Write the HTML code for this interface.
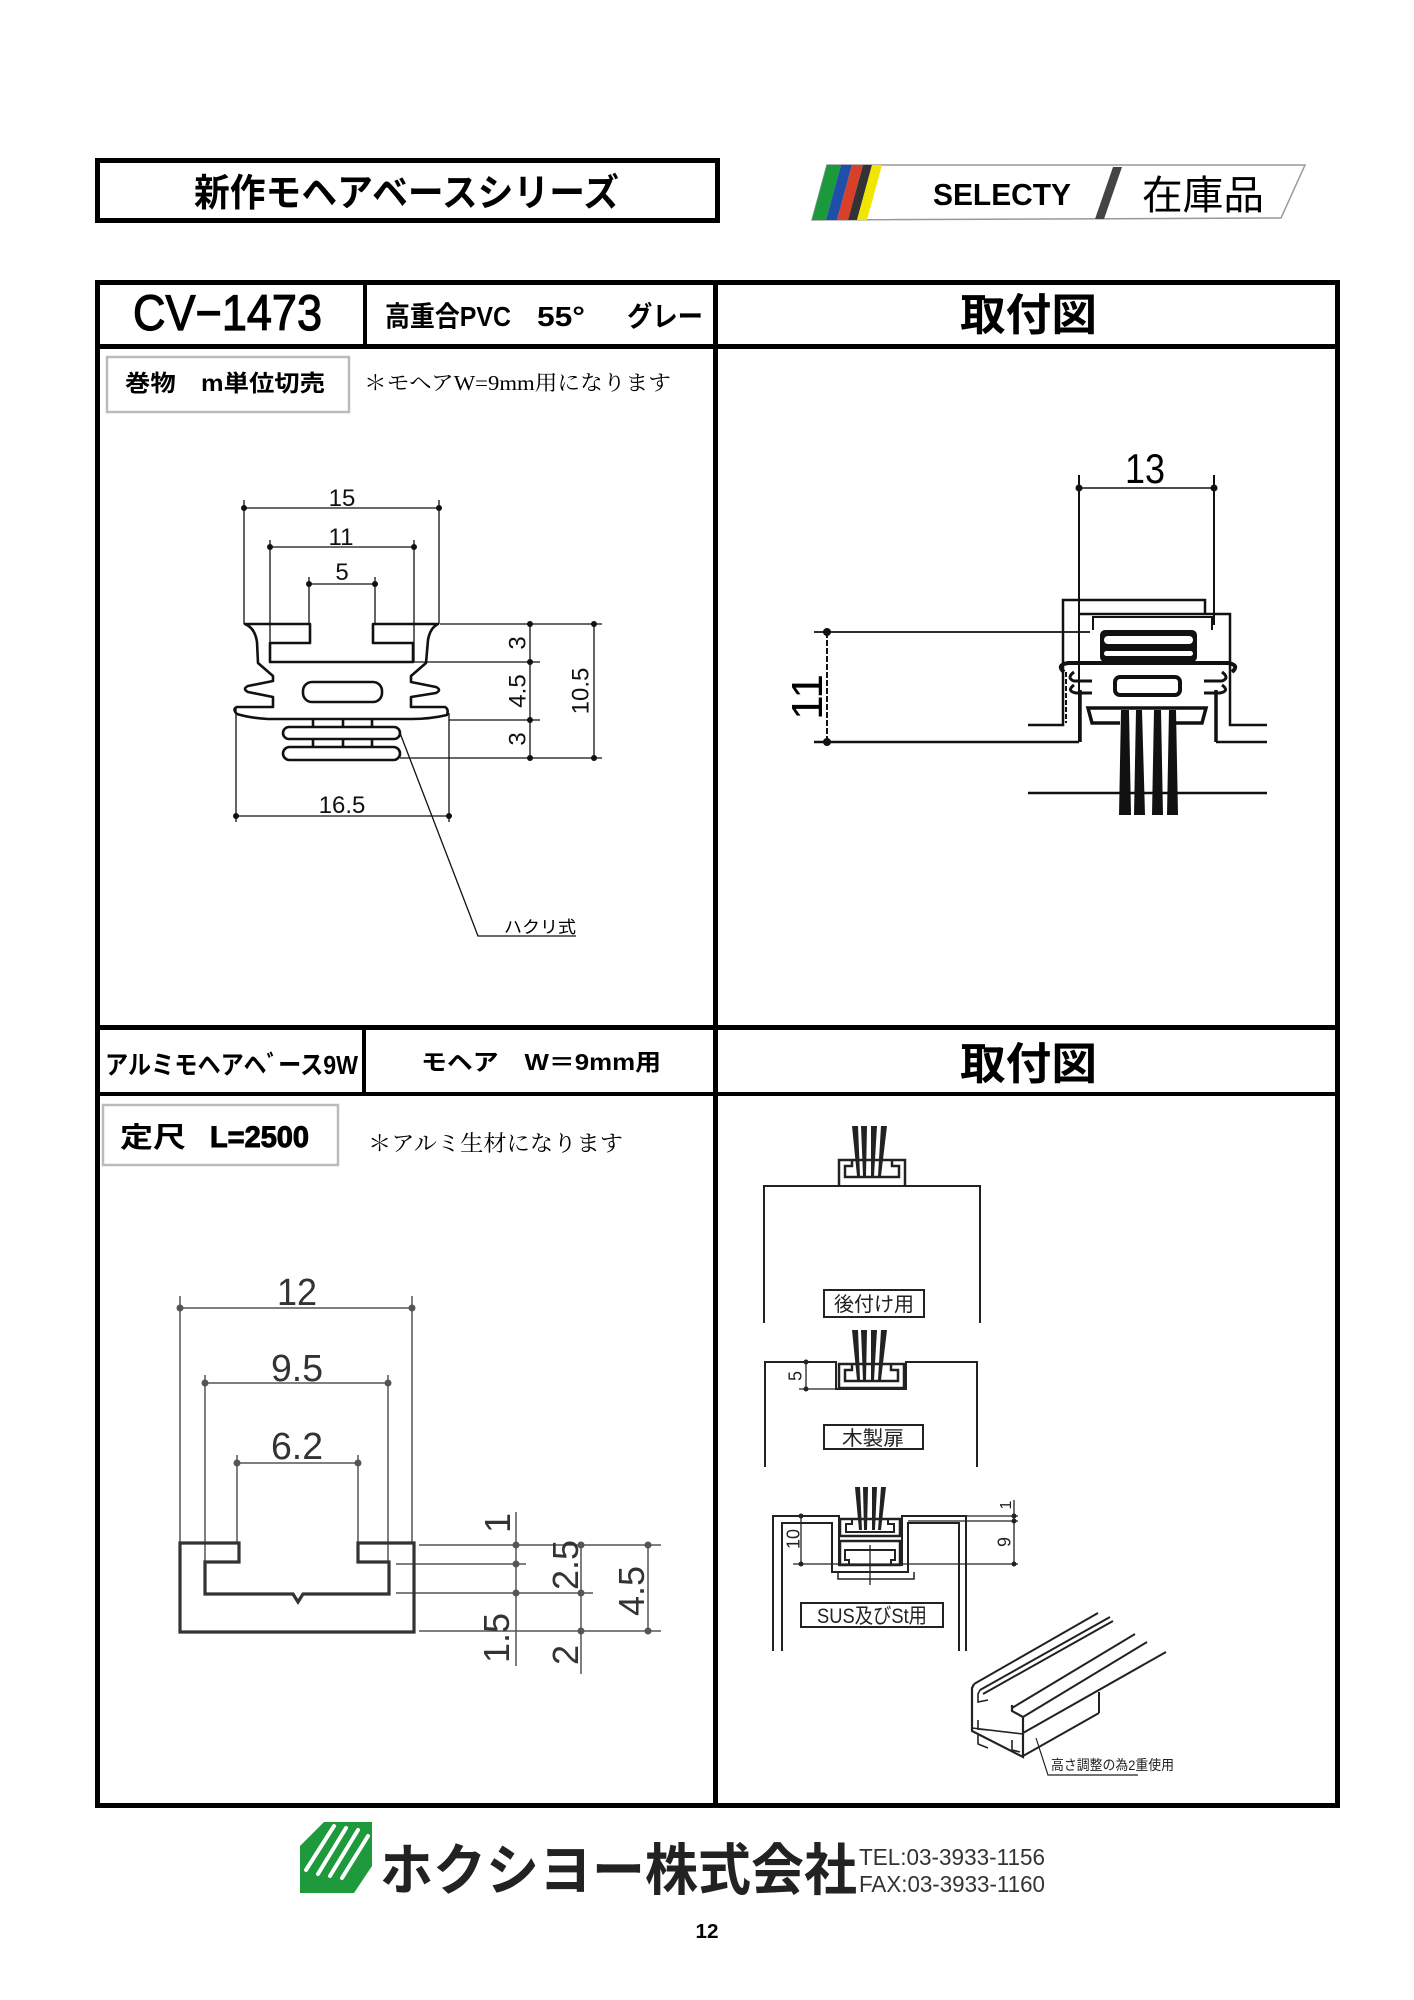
<!DOCTYPE html>
<html><head><meta charset="utf-8"><style>
html,body{margin:0;padding:0;background:#fff}
svg{display:block}
.sb{font-family:"Liberation Sans","Noto Sans CJK JP",sans-serif;font-weight:bold}
.s{font-family:"Liberation Sans","Noto Sans CJK JP",sans-serif}
.m{font-family:"Liberation Serif","Noto Serif CJK JP","Noto Serif CJK SC",serif}
</style></head><body>
<svg width="1414" height="2000" viewBox="0 0 1414 2000" xmlns="http://www.w3.org/2000/svg">
<rect width="1414" height="2000" fill="#fff"/>

<!-- Title box -->
<rect x="97.5" y="160.5" width="620" height="60" fill="none" stroke="#000" stroke-width="5"/>
<text class="sb" x="194" y="206" font-size="38" textLength="425" lengthAdjust="spacingAndGlyphs">新作モヘアベースシリーズ</text>

<!-- SELECTY logo -->
<polygon points="827,165 1305,165 1281,218 812,220" fill="#fff" stroke="#999" stroke-width="1.5"/>
<polygon points="812,220 826,220 841,165 827,165" fill="#1a9a3a"/>
<polygon points="826,220 837,220 852,165 841,165" fill="#1f4fa8"/>
<polygon points="837,220 848,220 863,165 852,165" fill="#d8402a"/>
<polygon points="848,220 857,220 872,165 863,165" fill="#333"/>
<polygon points="857,220 867,220 882,165 872,165" fill="#f2e600"/>
<text class="sb" x="933" y="205" font-size="31" textLength="138" lengthAdjust="spacingAndGlyphs">SELECTY</text>
<polygon points="1113,167 1122,167 1104,219 1095,219" fill="#444"/>
<text class="s" x="1142" y="209" font-size="40" textLength="122" lengthAdjust="spacingAndGlyphs">在庫品</text>

<!-- Table -->
<g stroke="#000" fill="none">
<rect x="97.5" y="282.5" width="1240" height="1523" stroke-width="5"/>
<line x1="715.5" y1="282" x2="715.5" y2="1806" stroke-width="5"/>
<line x1="97" y1="346.5" x2="1338" y2="346.5" stroke-width="5"/>
<line x1="365" y1="282" x2="365" y2="346" stroke-width="4"/>
<line x1="97" y1="1027.5" x2="1338" y2="1027.5" stroke-width="5"/>
<line x1="97" y1="1094" x2="1338" y2="1094" stroke-width="4"/>
<line x1="364" y1="1027" x2="364" y2="1094" stroke-width="4"/>
</g>

<!-- Header row 1 -->
<text class="s" x="133" y="330" font-size="50" stroke="#000" stroke-width="1.2" textLength="189" lengthAdjust="spacingAndGlyphs">CV−1473</text>
<text class="sb" x="385" y="326" font-size="28" textLength="126" lengthAdjust="spacingAndGlyphs">高重合PVC</text>
<text class="sb" x="537" y="326" font-size="28" textLength="48" lengthAdjust="spacingAndGlyphs">55°</text>
<text class="sb" x="627" y="326" font-size="28" textLength="76" lengthAdjust="spacingAndGlyphs">グレー</text>
<text class="sb" x="960" y="330" font-size="44" textLength="137" lengthAdjust="spacingAndGlyphs">取付図</text>

<!-- Row 1 left sub -->
<rect x="107" y="357" width="242" height="55" fill="none" stroke="#bbb" stroke-width="2.5"/>
<text class="sb" x="125" y="391" font-size="23" textLength="200" lengthAdjust="spacingAndGlyphs">巻物　m単位切売</text>
<text class="m" x="364" y="390" font-size="21" textLength="307" lengthAdjust="spacingAndGlyphs">＊モヘアW=9mm用になります</text>

<!-- Profile 1 drawing -->
<g stroke="#111" fill="none" stroke-width="1.3">
<line x1="244" y1="508" x2="439" y2="508"/>
<line x1="244" y1="500" x2="244" y2="624"/>
<line x1="439" y1="500" x2="439" y2="624"/>
<line x1="270" y1="547" x2="414" y2="547"/>
<line x1="270" y1="540" x2="270" y2="662"/>
<line x1="414" y1="540" x2="414" y2="662"/>
<line x1="309" y1="584" x2="375" y2="584"/>
<line x1="309" y1="577" x2="309" y2="624"/>
<line x1="375" y1="577" x2="375" y2="624"/>
<line x1="440" y1="624" x2="602" y2="624"/>
<line x1="414" y1="662" x2="540" y2="662"/>
<line x1="449" y1="720" x2="540" y2="720"/>
<line x1="400" y1="758" x2="602" y2="758"/>
<line x1="530" y1="624" x2="530" y2="758"/>
<line x1="594" y1="624" x2="594" y2="758"/>
<line x1="236" y1="816" x2="449" y2="816"/>
<line x1="236" y1="707" x2="236" y2="822"/>
<line x1="449" y1="713" x2="449" y2="822"/>
<polyline points="400,733 478,936 576,936"/>
</g>
<g fill="#111">
<circle cx="244" cy="508" r="3"/><circle cx="439" cy="508" r="3"/>
<circle cx="270" cy="547" r="3"/><circle cx="414" cy="547" r="3"/>
<circle cx="309" cy="584" r="3"/><circle cx="375" cy="584" r="3"/>
<circle cx="530" cy="624" r="3"/><circle cx="530" cy="662" r="3"/><circle cx="530" cy="720" r="3"/><circle cx="530" cy="758" r="3"/>
<circle cx="594" cy="624" r="3"/><circle cx="594" cy="758" r="3"/>
<circle cx="236" cy="816" r="3"/><circle cx="449" cy="816" r="3"/>
</g>
<g stroke="#111" fill="none" stroke-width="2.6" stroke-linejoin="round">
<path d="M245,624 L310,624 L310,643 L270,643 L270,662 L413,662 L413,643 L373,643 L373,624 L438,624 Q430,628 428,640 L426,663 L411,676 L411,682 L436,687 Q442,690 436,693 L411,697 L411,707 L445,707 Q449,709 447,715 Q430,719 412,719 L268,719 Q250,718 237,714 Q232,709 237,707 L273,707 L273,697 L248,692 Q242,689 248,686 L273,681 L273,676 L258,663 L257,642 Q255,628 245,624 Z"/>
<rect x="303" y="682" width="79" height="20" rx="9"/>
<rect x="283" y="727" width="117" height="12" rx="6"/>
<rect x="283" y="747" width="117" height="13" rx="6.5"/>
<path d="M313,719 V727 M343,719 V727 M372,719 V727 M313,739 V747 M343,739 V747 M372,739 V747"/>
</g>
<g class="s" fill="#111" font-size="24">
<text x="342" y="506" text-anchor="middle">15</text>
<text x="341" y="545" text-anchor="middle">11</text>
<text x="342" y="580" text-anchor="middle">5</text>
<text x="342" y="813" text-anchor="middle">16.5</text>
<text transform="translate(517,643) rotate(-90)" text-anchor="middle" dy="0.36em">3</text>
<text transform="translate(517,691) rotate(-90)" text-anchor="middle" dy="0.36em">4.5</text>
<text transform="translate(517,739) rotate(-90)" text-anchor="middle" dy="0.36em">3</text>
<text transform="translate(580,691) rotate(-90)" text-anchor="middle" dy="0.36em">10.5</text>
</g>
<text class="s" x="504" y="933" font-size="17" textLength="72" lengthAdjust="spacingAndGlyphs">ハクリ式</text>

<!-- Top-right mounting drawing -->
<g stroke="#111" fill="none" stroke-width="2">
<line x1="1079" y1="488" x2="1214" y2="488" stroke-width="1.5"/>
<line x1="1079" y1="475" x2="1079" y2="742"/>
<line x1="1214" y1="475" x2="1214" y2="625"/>
<path d="M1028,725 L1063,725 L1063,600 L1205,600 L1205,615" stroke-width="2.5"/>
<path d="M1079,614 L1230,614 L1230,725 L1267,725" stroke-width="2.5"/>
<path d="M1093,630 L1093,617 L1212,617 L1212,630"/>
<line x1="814" y1="632" x2="1090" y2="632" stroke-width="1.8"/>
<line x1="814" y1="742" x2="1079" y2="742" stroke-width="2.5"/>
<line x1="1216" y1="742" x2="1267" y2="742" stroke-width="2.5"/>
<line x1="827" y1="632" x2="827" y2="742" stroke-dasharray="6,2"/>
<line x1="1028" y1="793" x2="1267" y2="793" stroke-width="2.5"/>
<path d="M1064,672 Q1056,665 1068,663 L1228,663 Q1240,665 1232,672" stroke-width="4"/>
<path d="M1074,672 Q1066,678 1074,681 L1092,681 M1074,685 Q1066,691 1076,693 L1092,693" stroke-width="3"/>
<path d="M1222,672 Q1230,678 1222,681 L1204,681 M1222,685 Q1230,691 1220,693 L1204,693" stroke-width="3"/>
<rect x="1115" y="677" width="65" height="18" rx="5" stroke-width="4"/>
<line x1="1080" y1="690" x2="1080" y2="742" stroke-width="3.5"/>
<line x1="1216" y1="690" x2="1216" y2="742" stroke-width="3.5"/>
<path d="M1120,723 L1092,723 L1088,708 L1206,708 L1202,723 L1173,723" stroke-width="3.5"/>
<line x1="1066" y1="672" x2="1066" y2="723" stroke-dasharray="5,2"/>
</g>
<rect x="1100" y="630" width="97" height="32" rx="5" fill="#111"/>
<rect x="1104" y="636" width="89" height="8" rx="4" fill="#fff"/>
<rect x="1104" y="651" width="89" height="5" rx="2.5" fill="#fff"/>
<g fill="#111">
<circle cx="1079" cy="488" r="3.5"/><circle cx="1214" cy="488" r="3.5"/>
<circle cx="827" cy="632" r="4"/><circle cx="827" cy="742" r="4"/>
<polygon points="1121,710 1129,710 1131,815 1119,815"/>
<polygon points="1136,710 1142,710 1145,815 1134,815"/>
<polygon points="1154,710 1161,710 1163,815 1152,815"/>
<polygon points="1169,710 1176,710 1178,815 1167,815"/>
</g>
<text class="s" x="1145" y="483" font-size="42" text-anchor="middle" textLength="40" lengthAdjust="spacingAndGlyphs">13</text>
<text class="s" transform="translate(806,697) rotate(-90)" font-size="44" text-anchor="middle" dy="0.36em">11</text>

<!-- Header row 2 -->
<text class="sb" x="105" y="1074" font-size="26" textLength="253" lengthAdjust="spacingAndGlyphs">アルミモヘアヘﾞース9W</text>
<text class="sb" x="421" y="1070" font-size="23" textLength="240" lengthAdjust="spacingAndGlyphs">モヘア　W＝9mm用</text>
<text class="sb" x="960" y="1079" font-size="44" textLength="137" lengthAdjust="spacingAndGlyphs">取付図</text>

<rect x="103" y="1105" width="235" height="60" fill="none" stroke="#bbb" stroke-width="2.5"/>
<text class="sb" x="120" y="1147" font-size="28" textLength="66" lengthAdjust="spacingAndGlyphs">定尺</text>
<text class="sb" x="210" y="1147" font-size="30" stroke="#000" stroke-width="1" textLength="99" lengthAdjust="spacingAndGlyphs">L=2500</text>
<text class="m" x="368" y="1151" font-size="22" textLength="255" lengthAdjust="spacingAndGlyphs">＊アルミ生材になります</text>

<!-- Aluminium profile drawing -->
<g stroke="#555" fill="none" stroke-width="1.5">
<line x1="180" y1="1308" x2="412" y2="1308"/>
<line x1="205" y1="1383" x2="388" y2="1383"/>
<line x1="237" y1="1463" x2="358" y2="1463"/>
<line x1="180" y1="1296" x2="180" y2="1543"/>
<line x1="412" y1="1296" x2="412" y2="1543"/>
<line x1="205" y1="1375" x2="205" y2="1562"/>
<line x1="388" y1="1375" x2="388" y2="1562"/>
<line x1="237" y1="1455" x2="237" y2="1543"/>
<line x1="358" y1="1455" x2="358" y2="1543"/>
<line x1="419" y1="1545" x2="661" y2="1545"/>
<line x1="396" y1="1564" x2="526" y2="1564"/>
<line x1="396" y1="1593" x2="593" y2="1593"/>
<line x1="419" y1="1631" x2="661" y2="1631"/>
<line x1="516" y1="1512" x2="516" y2="1666"/>
<line x1="581" y1="1545" x2="581" y2="1674"/>
<line x1="648" y1="1545" x2="648" y2="1631"/>
</g>
<path d="M180,1543 L239,1543 L239,1562 L205,1562 L205,1594 L293,1594 L298,1602 L303,1594 L389,1594 L389,1562 L358,1562 L358,1543 L414,1543 L414,1632 L180,1632 Z" fill="none" stroke="#333" stroke-width="3.2"/>
<g fill="#555">
<circle cx="180" cy="1308" r="3.5"/><circle cx="412" cy="1308" r="3.5"/>
<circle cx="205" cy="1383" r="3.5"/><circle cx="388" cy="1383" r="3.5"/>
<circle cx="237" cy="1463" r="3.5"/><circle cx="358" cy="1463" r="3.5"/>
<circle cx="516" cy="1545" r="3.5"/><circle cx="516" cy="1564" r="3.5"/><circle cx="516" cy="1593" r="3.5"/>
<circle cx="581" cy="1545" r="3.5"/><circle cx="581" cy="1593" r="3.5"/><circle cx="581" cy="1631" r="3.5"/>
<circle cx="648" cy="1545" r="3.5"/><circle cx="648" cy="1631" r="3.5"/>
</g>
<g class="s" fill="#333" font-size="38">
<text x="297" y="1305" text-anchor="middle" textLength="40" lengthAdjust="spacingAndGlyphs">12</text>
<text x="297" y="1381" text-anchor="middle" textLength="52" lengthAdjust="spacingAndGlyphs">9.5</text>
<text x="297" y="1459" text-anchor="middle" textLength="52" lengthAdjust="spacingAndGlyphs">6.2</text>
<text transform="translate(497,1523) rotate(-90)" text-anchor="middle" dy="0.36em" font-size="36">1</text>
<text transform="translate(496,1638) rotate(-90)" text-anchor="middle" dy="0.36em" font-size="36">1.5</text>
<text transform="translate(565,1565) rotate(-90)" text-anchor="middle" dy="0.36em" font-size="36">2.5</text>
<text transform="translate(565,1655) rotate(-90)" text-anchor="middle" dy="0.36em" font-size="36">2</text>
<text transform="translate(631,1591) rotate(-90)" text-anchor="middle" dy="0.36em" font-size="36">4.5</text>
</g>

<!-- Bottom-right drawings -->
<g stroke="#222" fill="none" stroke-width="2">
<path d="M764,1323 L764,1186 L980,1186 L980,1323"/>
<path d="M839,1186 L839,1160 L905,1160 L905,1186" stroke-width="2.5"/>
<path d="M852,1160 L852,1166 L845,1166 L845,1177 L899,1177 L899,1166 L892,1166 L892,1160" stroke-width="2.5"/>
<rect x="824" y="1290" width="100" height="27"/>
<path d="M765,1467 L765,1362 L836,1362 L836,1389 L906,1389 L906,1362 L977,1362 L977,1467"/>
<rect x="839" y="1364" width="65" height="24" stroke-width="2.5"/>
<path d="M852,1364 L852,1370 L845,1370 L845,1381 L898,1381 L898,1370 L891,1370 L891,1364" stroke-width="2.5"/>
<line x1="806" y1="1362" x2="806" y2="1389" stroke-width="1.3"/>
<line x1="799" y1="1389" x2="836" y2="1389" stroke-width="1.3"/>
<rect x="824" y="1425" width="99" height="24"/>
<path d="M773,1651 L773,1516 L839,1516 L839,1565 L902,1565 L902,1516 L966,1516 L966,1651"/>
<path d="M782,1651 L782,1523 L832,1523 L832,1572 L908,1572 L908,1523 L959,1523 L959,1651"/>
<path d="M838,1572 L838,1579 L914,1579 L914,1572" stroke-width="1.5"/>
<rect x="840" y="1519" width="60" height="17" stroke-width="2.5"/>
<path d="M852,1519 L852,1524 L846,1524 L846,1532 L894,1532 L894,1524 L888,1524 L888,1519" stroke-width="2"/>
<rect x="840" y="1541" width="60" height="24" stroke-width="2.5"/>
<path d="M849,1565 L849,1560 L845,1560 L845,1550 L895,1550 L895,1560 L891,1560 L891,1565" stroke-width="2"/>
<line x1="870" y1="1545" x2="870" y2="1585" stroke-width="1.3"/>
<line x1="801" y1="1516" x2="801" y2="1564" stroke-width="1.3"/>
<line x1="793" y1="1564" x2="1018" y2="1564" stroke-width="1.3"/>
<line x1="967" y1="1516" x2="1018" y2="1516" stroke-width="1.3"/>
<line x1="908" y1="1521" x2="1018" y2="1521" stroke-width="1.3"/>
<line x1="1014" y1="1500" x2="1014" y2="1564" stroke-width="1.3"/>
<rect x="801" y="1603" width="142" height="24"/>
<line x1="974" y1="1684" x2="1098" y2="1613"/>
<line x1="980" y1="1690" x2="1110" y2="1617"/>
<line x1="983" y1="1694" x2="1113" y2="1621"/>
<line x1="1012" y1="1708" x2="1135" y2="1634"/>
<line x1="1023" y1="1717" x2="1147" y2="1642"/>
<line x1="1023" y1="1733" x2="1166" y2="1652"/>
<line x1="1023" y1="1756" x2="1099" y2="1713"/>
<line x1="1099" y1="1692" x2="1099" y2="1713"/>
<path d="M974,1684 L972,1688 L972,1731 L1023,1757 L1023,1717 L1012,1711 L1012,1705" stroke-width="2.2"/>
<path d="M980,1690 L978,1694 L978,1702 L988,1700" stroke-width="1.6"/>
<path d="M972,1728 L1023,1734" stroke-width="1.6"/>
<path d="M978,1720 L978,1729 L988,1730 M978,1735 L978,1744 L988,1748 M1012,1740 L1012,1750 L1020,1752" stroke-width="1.6"/>
<polyline points="1036,1738 1048,1775 1138,1775" stroke-width="1.2"/>
</g>
<g fill="#222">
<polygon points="852,1126 858,1126 860,1176 857,1176"/>
<polygon points="861,1126 867,1126 866,1176 863,1176"/>
<polygon points="871,1126 877,1126 874,1176 871,1176"/>
<polygon points="881,1126 887,1126 881,1176 878,1176"/>
<polygon points="852,1330 858,1330 860,1380 857,1380"/>
<polygon points="861,1330 867,1330 866,1380 863,1380"/>
<polygon points="871,1330 877,1330 874,1380 871,1380"/>
<polygon points="881,1330 887,1330 881,1380 878,1380"/>
<polygon points="855,1487 860,1487 862,1530 859,1530"/>
<polygon points="863,1487 868,1487 867,1530 864,1530"/>
<polygon points="872,1487 877,1487 875,1530 872,1530"/>
<polygon points="881,1487 886,1487 881,1530 878,1530"/>
<circle cx="806" cy="1362" r="2.5"/><circle cx="806" cy="1389" r="2.5"/>
<circle cx="801" cy="1516" r="2.5"/><circle cx="801" cy="1564" r="2.5"/>
<circle cx="1014" cy="1516" r="2.5"/><circle cx="1014" cy="1521" r="2.5"/><circle cx="1014" cy="1564" r="2.5"/>
</g>
<g class="s" fill="#222">
<text x="874" y="1311" font-size="20" text-anchor="middle" textLength="80" lengthAdjust="spacingAndGlyphs">後付け用</text>
<text x="873" y="1445" font-size="20" text-anchor="middle" textLength="62" lengthAdjust="spacingAndGlyphs">木製扉</text>
<text x="872" y="1623" font-size="21" text-anchor="middle" textLength="110" lengthAdjust="spacingAndGlyphs">SUS及びSt用</text>
<text transform="translate(795,1376) rotate(-90)" text-anchor="middle" dy="0.36em" font-size="18">5</text>
<text transform="translate(793,1539) rotate(-90)" text-anchor="middle" dy="0.36em" font-size="18">10</text>
<text transform="translate(1005,1505) rotate(-90)" text-anchor="middle" dy="0.36em" font-size="16">1</text>
<text transform="translate(1004,1542) rotate(-90)" text-anchor="middle" dy="0.36em" font-size="18">9</text>
<text x="1051" y="1770" font-size="14" textLength="123" lengthAdjust="spacingAndGlyphs">高さ調整の為2重使用</text>
</g>

<!-- Footer -->
<path d="M300,1893 L300,1846 L324,1822 L372,1822 L372,1866 L354,1893 Z" fill="#1e9a3c"/>
<g stroke="#fff" stroke-width="4" stroke-linecap="round">
<line x1="306" y1="1870" x2="334" y2="1826"/>
<line x1="318" y1="1874" x2="346" y2="1828"/>
<line x1="330" y1="1876" x2="358" y2="1830"/>
<line x1="342" y1="1878" x2="368" y2="1836"/>
</g>
<text class="sb" x="380" y="1890" font-size="56" fill="#222" textLength="477" lengthAdjust="spacingAndGlyphs">ホクシヨー株式会社</text>
<text class="s" x="859" y="1865" font-size="23" fill="#333" textLength="186" lengthAdjust="spacingAndGlyphs">TEL:03-3933-1156</text>
<text class="s" x="859" y="1892" font-size="23" fill="#333" textLength="186" lengthAdjust="spacingAndGlyphs">FAX:03-3933-1160</text>
<text class="sb" x="707" y="1938" font-size="20" text-anchor="middle" textLength="23" lengthAdjust="spacingAndGlyphs">12</text>
</svg>
</body></html>
